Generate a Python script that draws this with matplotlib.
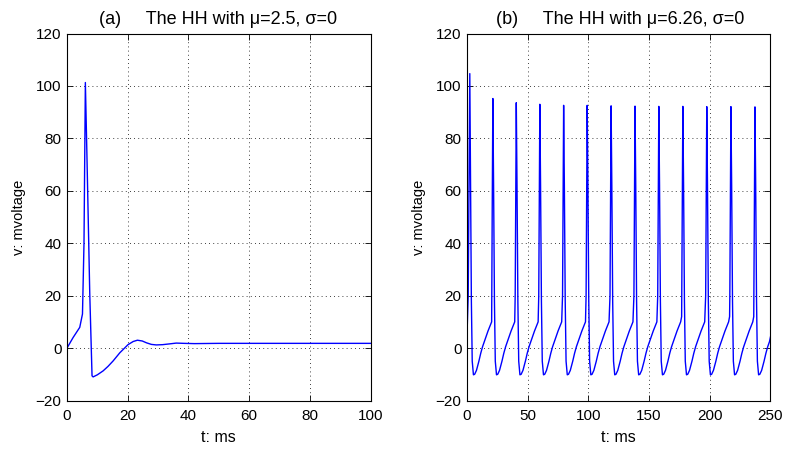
import numpy as np
import matplotlib
matplotlib.use("Agg")
import matplotlib.pyplot as plt

plt.rcParams["font.family"] = ["Liberation Sans", "DejaVu Sans"]

# ---------------- Panel (a): mu = 2.5 ----------------
a_t = [0, 2.0, 4.2, 5.1, 5.6, 6.05, 6.6, 7.5, 8.25, 8.6, 10.0, 11.9, 13.5, 15.2,
       17.4, 20.1, 21.8, 23.2, 24.8, 26.2, 27.8, 29.4, 31.5, 33.8, 36.0, 38.5,
       42.0, 50.0, 60.0, 80.0, 100.0]
a_v = [0.0, 4.0, 7.9, 13.0, 40.0, 101.3, 71.7, 20.7, -10.6, -11.0, -10.2, -8.7,
       -7.0, -4.9, -1.8, 1.3, 2.5, 3.0, 2.7, 2.0, 1.4, 1.2, 1.3, 1.6, 1.9, 1.8,
       1.7, 1.8, 1.8, 1.8, 1.8]

# ---------------- Panel (b): mu = 6.26 ----------------
spike_t = [2.3, 21.3, 40.6, 60.0, 79.6, 99.0, 118.7, 138.4, 158.0, 177.8,
           197.5, 217.4, 237.2]
spike_v = [104.7, 95.2, 93.6, 93.0, 92.6, 92.6, 92.4, 92.3, 92.2, 92.2, 92.1,
           92.1, 92.0]
# one inter-spike cycle, offsets in ms from a spike peak
cycle_dt = [0.6, 1.3, 2.0, 3.0, 4.0, 5.5, 7.5, 9.0, 10.5, 12.0, 13.5, 15.0,
            16.5, 18.0, 18.8]
cycle_v = [62.0, 18.0, -5.0, -10.2, -10.0, -8.5, -5.0, -2.0, 0.5, 2.5, 4.5,
           6.5, 8.3, 10.0, 12.0]
# upstroke just before each peak (offsets in ms before the peak)
rise_dt = [-0.9, -0.5]
rise_v = [20.0, 55.0]
b_start_t = [0.0, 1.0]
b_start_v = [5.0, 20.0]
b_end_t, b_end_v = 250.0, 4.3

b_t, b_v = list(b_start_t), list(b_start_v)
for i, (tp, vp) in enumerate(zip(spike_t, spike_v)):
    if i > 0:
        b_t += [tp + d for d in rise_dt]
        b_v += rise_v
    b_t.append(tp)
    b_v.append(vp)
    for d, v in zip(cycle_dt, cycle_v):
        if tp + d <= b_end_t and (i == len(spike_t) - 1 or tp + d < spike_t[i + 1] - 0.9):
            b_t.append(tp + d)
            b_v.append(v)
b_t.append(b_end_t)
b_v.append(b_end_v)

W, H = 788, 449
fig = plt.figure(figsize=(W / 100, H / 100), dpi=100)
axL = fig.add_axes([67 / W, (H - 400.5) / H, 303.5 / W, 367 / H])
axR = fig.add_axes([467 / W, (H - 400.5) / H, 303.5 / W, 367 / H])

titles = ["(a)     The HH with \u03bc=2.5, \u03c3=0", "(b)     The HH with \u03bc=6.26, \u03c3=0"]
title_x = [0.105, 0.096]
for ax, t, v, xmax, xt, ttl, tx in [
    (axL, a_t, a_v, 100, [0, 20, 40, 60, 80, 100], titles[0], title_x[0]),
    (axR, b_t, b_v, 250, [0, 50, 100, 150, 200, 250], titles[1], title_x[1]),
]:
    ax.plot(t, v, color=(0, 0, 1), lw=1.0)
    ax.set_xlim(0, xmax)
    ax.set_ylim(-20, 120)
    ax.set_xticks(xt)
    ax.set_yticks(range(-20, 121, 20))
    ax.grid(True, color="black", linestyle=(0, (1, 4)), linewidth=0.6)
    ax.tick_params(direction="in", length=4, width=0.6, top=True, right=True,
                   labelsize=11)
    ax.tick_params(axis="x", pad=6)
    ax.tick_params(axis="y", pad=4)
    for s in ax.spines.values():
        s.set_linewidth(0.8)
    ax.set_xlabel("t: ms", fontsize=11.5, labelpad=5)
    ax.set_ylabel("v: mvoltage", fontsize=10.5, labelpad=7)
    ax.text(tx, 1.016, ttl, transform=ax.transAxes, ha="left", va="bottom",
            fontsize=13)

fig.savefig("out.png", dpi=100)
